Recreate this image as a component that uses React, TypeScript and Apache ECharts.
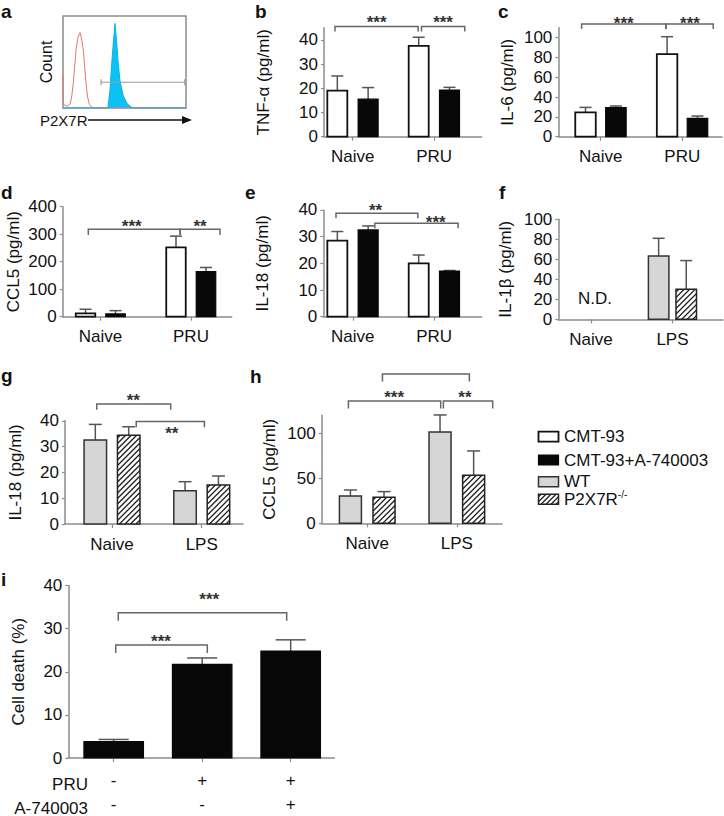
import React, { useEffect, useRef } from 'react';
import * as echarts from 'echarts';

const FONT = '"Liberation Sans", Arial, Helvetica, sans-serif';
const TXT = '#111111';
const AX = '#8c8c8c';
const ERR = '#555555';
const BR = '#666666';

// ---------- panel a: flow cytometry histogram (fluorescence bin, % of max count) ----------
const isotypeHist: [number, number][] = [
  [0, 36], [0.4, 4], [3, 2], [5.7, 4], [7, 12], [8.4, 27], [9.5, 45], [10.6, 63], [12, 76],
  [13.2, 80], [13.8, 82], [14.6, 78], [15.5, 72], [16.5, 63], [17.6, 45], [18.7, 27], [20, 12],
  [21.4, 4], [23, 1], [26, 0], [100, 0],
];
const p2x7rHist: [number, number][] = [
  [0, 0], [36, 0], [36.6, 1], [38.2, 20], [39.8, 52], [41.1, 74], [42.3, 92], [43.5, 74],
  [44.7, 52], [46.3, 30], [48.8, 14], [52, 5], [55.3, 1], [58, 0], [100, 0],
];
const gateRange = [31, 99];
const gateLevel = 28;

// ---------- categories ----------
const catsPRU = ['Naive', 'PRU'];
const catsLPS = ['Naive', 'LPS'];
const iPRU = ['-', '+', '+'];
const iA740003 = ['-', '-', '+'];

// ---------- b: TNF-α ----------
const tnfCMT = [19.0, 37.5];
const tnfCMTErr = [6.1, 3.6];
const tnfCMTA = [15.5, 19.3];
const tnfCMTAErr = [4.8, 1.1];
// ---------- c: IL-6 ----------
const il6CMT = [24.6, 83.5];
const il6CMTErr = [5.0, 17.5];
const il6CMTA = [29.3, 18.5];
const il6CMTAErr = [1.7, 2.4];
// ---------- d: CCL5 ----------
const ccl5CMT = [12, 252];
const ccl5CMTErr = [15, 41];
const ccl5CMTA = [10, 164];
const ccl5CMTAErr = [12, 15];
// ---------- e: IL-18 ----------
const il18CMT = [28.5, 20.0];
const il18CMTErr = [3.4, 3.1];
const il18CMTA = [32.5, 17.1];
const il18CMTAErr = [1.5, 0.2];
// ---------- f: IL-1β (naive not detected) ----------
const il1bWT = [null, 63.3];
const il1bWTErr = [null, 17.7];
const il1bKO = [null, 30.0];
const il1bKOErr = [null, 28.7];
// ---------- g: IL-18 ----------
const il18WT = [32.6, 12.9];
const il18WTErr = [6.0, 3.5];
const il18KO = [34.4, 15.1];
const il18KOErr = [3.3, 3.5];
// ---------- h: CCL5 ----------
const ccl5WT = [30.4, 101.5];
const ccl5WTErr = [6.6, 18.9];
const ccl5KO = [28.9, 53.3];
const ccl5KOErr = [6.3, 27.1];
// ---------- i: cell death ----------
const cellDeath = [3.8, 21.7, 24.8];
const cellDeathErr = [0.5, 1.5, 2.6];

// ---------- y tick labels ----------
const ticks40 = [0, 10, 20, 30, 40];
const ticks100 = [0, 20, 40, 60, 80, 100];
const ticks400 = [0, 100, 200, 300, 400];
const ticks120 = [0, 50, 100];

// ---------- significance brackets: [x1, x2, y, labelX, labelY] in category / value units ----------
const bBr = [[-0.218, 0.804, 45.5, 0.293, 48.9], [0.845, 1.377, 45.5, 1.11, 48.9]];
const bStars = ['***', '***'];
const cBr = [[-0.234, 0.8, 113.8, 0.283, 117.9], [0.8, 1.38, 113.8, 1.094, 117.9]];
const cStars = ['***', '***'];
const dBr = [[-0.135, 0.88, 317.8, 0.345, 341.8], [0.88, 1.32, 317.8, 1.1, 341.8]];
const dStars = ['***', '**'];
const eBr = [[-0.206, 0.8, 38.7, 0.28, 41.2], [0.272, 1.295, 35.0, 1.02, 36.6]];
const eStars = ['**', '***'];
const gBr = [[-0.17, 0.654, 46.5, 0.237, 49.6], [0.27, 1.03, 39.7, 0.666, 36.7]];
const gStars = ['**', '**'];
const hBr = [[-0.21, 0.82, 136, 0.3, 144.4], [0.85, 1.4, 136, 1.09, 144.4], [0.17, 1.14, 166, 0.655, 166]];
const hStars = ['***', '**', ''];
const iBr = [[0.023, 1.058, 26.2, 0.534, 27.9], [0.052, 1.955, 33.7, 1.08, 37.6]];
const iStars = ['***', '***'];

const legendNames = ['CMT-93', 'CMT-93+A-740003', 'WT', 'P2X7R'];
const legendKinds = ['white', 'black', 'gray', 'hatch'];

const KIND: Record<string, { fill: string; stroke: string; lw: number }> = {
  white: { fill: '#ffffff', stroke: '#111111', lw: 1.8 },
  black: { fill: '#080808', stroke: '#080808', lw: 1.2 },
  gray: { fill: '#d6d6d6', stroke: '#333333', lw: 1.5 },
  hatch: { fill: '#ffffff', stroke: '#222222', lw: 1.5 },
};

function hatchLines(x0: number, y0: number, x1: number, y1: number, step: number) {
  const out: any[] = [];
  for (let c = x0 + y0 + step / 2; c < x1 + y1; c += step) {
    const xa = Math.max(x0, c - y1);
    const xb = Math.min(x1, c - y0);
    if (xb <= xa) continue;
    out.push({
      type: 'line',
      shape: { x1: xa, y1: c - xa, x2: xb, y2: c - xb },
      style: { stroke: '#222', lineWidth: 1.3 },
    });
  }
  return out;
}

function barRenderer(kind: string, off: number, w: number, cap: number) {
  return (params: any, api: any) => {
    const cat = api.value(0);
    const v = api.value(1);
    const sd = api.value(2);
    const base = api.coord([cat, 0]);
    const top = api.coord([cat, v]);
    const et = api.coord([cat, v + sd]);
    const cx = base[0] + off;
    const x0 = cx - w / 2;
    const x1 = cx + w / 2;
    const st = KIND[kind];
    const children: any[] = [];
    children.push({ type: 'line', shape: { x1: cx, y1: top[1], x2: cx, y2: et[1] }, style: { stroke: ERR, lineWidth: 1.5 } });
    children.push({ type: 'line', shape: { x1: cx - cap / 2, y1: et[1], x2: cx + cap / 2, y2: et[1] }, style: { stroke: ERR, lineWidth: 1.5 } });
    children.push({ type: 'rect', shape: { x: x0, y: top[1], width: w, height: base[1] - top[1] }, style: { fill: st.fill, stroke: null } });
    if (kind === 'hatch') hatchLines(x0, top[1], x1, base[1], 5.5).forEach((l) => children.push(l));
    children.push({ type: 'rect', shape: { x: x0, y: top[1], width: w, height: base[1] - top[1] }, style: { fill: null, stroke: st.stroke, lineWidth: st.lw } });
    return { type: 'group', children };
  };
}

function bracketRenderer(labels: string[], tick: number) {
  return (params: any, api: any) => {
    const p1 = api.coord([api.value(0), api.value(2)]);
    const p2 = api.coord([api.value(1), api.value(2)]);
    const pl = api.coord([api.value(3), api.value(4)]);
    const children: any[] = [
      {
        type: 'polyline',
        shape: { points: [[p1[0], p1[1] + tick], [p1[0], p1[1]], [p2[0], p2[1]], [p2[0], p2[1] + tick]] },
        style: { stroke: BR, lineWidth: 1.5, fill: null },
      },
    ];
    const t = labels[params.dataIndex];
    if (t) {
      children.push({
        type: 'text',
        x: pl[0],
        y: pl[1] + 4,
        style: { text: t, fill: '#333', font: `bold 17px ${FONT}`, align: 'center', verticalAlign: 'middle' },
      });
    }
    return { type: 'group', children };
  };
}

interface BarSet { kind: string; off: number; mean: (number | null)[]; err: (number | null)[] }
interface Panel {
  axisX: number; right: number; y0: number; yMax: number; ppu: number; xMin: number; xMax: number;
  title: string; nameGap: number; yTicks: number[]; cats: string[]; labelFmt?: (i: number) => string;
  labelMargin?: number; barW: number; cap: number; bars: BarSet[]; brackets?: number[][]; stars?: string[]; tick?: number;
}

function buildOption() {
  const grids: any[] = [];
  const xAxes: any[] = [];
  const yAxes: any[] = [];
  const series: any[] = [];
  const txt = { color: TXT, fontFamily: FONT };

  // panel a
  grids.push({ left: 63, top: 16, width: 123, height: 92, show: true, borderColor: '#8c8c8c', borderWidth: 1.5 });
  xAxes.push({ gridIndex: 0, type: 'value', min: 0, max: 100, show: false });
  yAxes.push({
    gridIndex: 0, type: 'value', min: 0, max: 100, splitLine: { show: false }, axisLine: { show: false, onZero: false },
    axisTick: { show: false }, axisLabel: { show: false }, name: 'Count', nameLocation: 'middle', nameGap: 9,
    nameTextStyle: { fontSize: 16, ...txt },
  });
  series.push({ type: 'line', xAxisIndex: 0, yAxisIndex: 0, data: isotypeHist, showSymbol: false, lineStyle: { color: '#f07070', width: 1 }, silent: true });
  series.push({ type: 'line', xAxisIndex: 0, yAxisIndex: 0, data: p2x7rHist, showSymbol: false, lineStyle: { color: '#00b6ea', width: 1 }, areaStyle: { color: '#0dc2f2', opacity: 1 }, silent: true });
  series.push({
    type: 'line', xAxisIndex: 0, yAxisIndex: 0, data: [[gateRange[0], gateLevel], [gateRange[1], gateLevel]],
    lineStyle: { color: '#9a9a9a', width: 1 }, symbol: 'rect', symbolSize: [1.2, 6], itemStyle: { color: '#9a9a9a' }, silent: true,
  });

  const panels: Panel[] = [
    { // b
      axisX: 324, right: 481.7, y0: 136.7, yMax: 45, ppu: 2.42, xMin: -0.353, xMax: 1.585, title: 'TNF-α (pg/ml)', nameGap: 52,
      yTicks: ticks40, cats: catsPRU, barW: 20, cap: 12, tick: 5, brackets: bBr, stars: bStars,
      bars: [{ kind: 'white', off: -15.4, mean: tnfCMT, err: tnfCMTErr }, { kind: 'black', off: 15.4, mean: tnfCMTA, err: tnfCMTAErr }],
    },
    { // c
      axisX: 558.3, right: 722, y0: 136.7, yMax: 110, ppu: 0.99, xMin: -0.52, xMax: 1.487, title: 'IL-6 (pg/ml)', nameGap: 42,
      yTicks: ticks100, cats: catsPRU, barW: 20.5, cap: 12, tick: 5, brackets: cBr, stars: cStars,
      bars: [{ kind: 'white', off: -15.2, mean: il6CMT, err: il6CMTErr }, { kind: 'black', off: 15.2, mean: il6CMTA, err: il6CMTAErr }],
    },
    { // d
      axisX: 62.7, right: 231.7, y0: 316.7, yMax: 400, ppu: 0.275, xMin: -0.418, xMax: 1.45, title: 'CCL5 (pg/ml)', nameGap: 41,
      yTicks: ticks400, cats: catsPRU, barW: 19.5, cap: 12, tick: 5.7, brackets: dBr, stars: dStars,
      bars: [{ kind: 'white', off: -15, mean: ccl5CMT, err: ccl5CMTErr }, { kind: 'black', off: 15, mean: ccl5CMTA, err: ccl5CMTAErr }],
    },
    { // e
      axisX: 323.3, right: 481.7, y0: 316.7, yMax: 40, ppu: 2.67, xMin: -0.362, xMax: 1.585, title: 'IL-18 (pg/ml)', nameGap: 52,
      yTicks: ticks40, cats: catsPRU, barW: 20, cap: 12, tick: 5, brackets: eBr, stars: eStars,
      bars: [{ kind: 'white', off: -15.4, mean: il18CMT, err: il18CMTErr }, { kind: 'black', off: 15.4, mean: il18CMTA, err: il18CMTAErr }],
    },
    { // f
      axisX: 558.3, right: 723, y0: 319.3, yMax: 100, ppu: 1, xMin: -0.4, xMax: 1.62, title: 'IL-1β (pg/ml)', nameGap: 44,
      yTicks: ticks100, cats: catsLPS, barW: 20.5, cap: 12,
      bars: [{ kind: 'gray', off: -13.8, mean: il1bWT, err: il1bWTErr }, { kind: 'hatch', off: 13.8, mean: il1bKO, err: il1bKOErr }],
    },
    { // g
      axisX: 65, right: 243, y0: 524, yMax: 40, ppu: 2.58, xMin: -0.524, xMax: 1.46, title: 'IL-18 (pg/ml)', nameGap: 41,
      yTicks: ticks40, cats: catsLPS, barW: 22.5, cap: 13, tick: 5.7, brackets: gBr, stars: gStars,
      bars: [{ kind: 'gray', off: -16.7, mean: il18WT, err: il18WTErr }, { kind: 'hatch', off: 16.7, mean: il18KO, err: il18KOErr }],
    },
    { // h
      axisX: 321.7, right: 502, y0: 523.3, yMax: 120, ppu: 0.9, xMin: -0.508, xMax: 1.504, title: 'CCL5 (pg/ml)', nameGap: 44,
      yTicks: ticks120, cats: catsLPS, barW: 22, cap: 13, tick: 7.7, brackets: hBr, stars: hStars,
      bars: [{ kind: 'gray', off: -16.8, mean: ccl5WT, err: ccl5WTErr }, { kind: 'hatch', off: 16.8, mean: ccl5KO, err: ccl5KOErr }],
    },
    { // i
      axisX: 68.3, right: 334.3, y0: 762.3, yMax: 40, ppu: 4.42, xMin: -0.513, xMax: 2.493, title: 'Cell death (%)', nameGap: 41,
      yTicks: ticks40, cats: iPRU, labelFmt: (i) => `${iPRU[i]}\n${iA740003[i]}`, labelMargin: 10, barW: 59.5, cap: 30, tick: 8,
      brackets: iBr, stars: iStars,
      bars: [{ kind: 'black', off: 0, mean: cellDeath, err: cellDeathErr }],
    },
  ];

  panels.forEach((p) => {
    const gi = grids.length;
    const top = p.y0 - p.yMax * p.ppu;
    grids.push({ left: p.axisX, top, width: p.right - p.axisX, height: p.y0 - top });
    const catIdx = p.cats.map((_, i) => i);
    xAxes.push({
      gridIndex: gi, type: 'value', min: p.xMin, max: p.xMax, splitLine: { show: false },
      axisLine: { show: true, onZero: false, lineStyle: { color: AX, width: 1.5 } },
      axisTick: { show: true, customValues: catIdx, length: 4, lineStyle: { color: AX, width: 1.2 } },
      axisLabel: {
        customValues: catIdx, margin: p.labelMargin ?? 8, fontSize: 17, lineHeight: 24, ...txt,
        formatter: (v: number) => (p.labelFmt ? p.labelFmt(Math.round(v)) : p.cats[Math.round(v)]),
      },
    });
    yAxes.push({
      gridIndex: gi, type: 'value', min: 0, max: p.yMax, splitLine: { show: false },
      axisLine: { show: true, onZero: false, lineStyle: { color: AX, width: 1.5 } },
      axisTick: { show: true, customValues: p.yTicks, length: 3, lineStyle: { color: AX, width: 1.2 } },
      axisLabel: { customValues: p.yTicks, margin: 6, fontSize: 17, ...txt },
      name: p.title, nameLocation: 'middle', nameGap: p.nameGap, nameTextStyle: { fontSize: 17, ...txt },
    });
    p.bars.forEach((b) => {
      const data: number[][] = [];
      b.mean.forEach((m, i) => { if (m != null) data.push([i, m, b.err[i] as number]); });
      series.push({ type: 'custom', xAxisIndex: gi, yAxisIndex: gi, renderItem: barRenderer(b.kind, b.off, p.barW, p.cap), data, silent: true, clip: false });
    });
    if (p.brackets) {
      series.push({ type: 'custom', xAxisIndex: gi, yAxisIndex: gi, renderItem: bracketRenderer(p.stars as string[], p.tick as number), data: p.brackets, silent: true, clip: false });
    }
  });

  const graphic: any[] = [];
  const letter = (t: string, x: number, baseline: number) =>
    graphic.push({ type: 'text', x, y: baseline, style: { text: t, font: `bold 19px ${FONT}`, fill: '#111', align: 'left', verticalAlign: 'bottom' } });
  letter('a', 1, 21);
  letter('b', 255, 21);
  letter('c', 498, 21);
  letter('d', 1, 202);
  letter('e', 245, 202);
  letter('f', 499, 202);
  letter('g', 1, 385);
  letter('h', 250, 386);
  letter('i', 1, 589);

  // P2X7R axis label with arrow
  graphic.push({ type: 'text', x: 40, y: 120, style: { text: 'P2X7R', font: `15px ${FONT}`, fill: TXT, align: 'left', verticalAlign: 'middle' } });
  graphic.push({ type: 'line', shape: { x1: 88, y1: 120, x2: 184, y2: 120 }, style: { stroke: '#111', lineWidth: 1.5 } });
  graphic.push({ type: 'polygon', shape: { points: [[182, 116], [192, 120], [182, 124]] }, style: { fill: '#111' } });

  // N.D. in panel f
  graphic.push({ type: 'text', x: 595, y: 298, style: { text: 'N.D.', font: `17px ${FONT}`, fill: TXT, align: 'center', verticalAlign: 'middle' } });

  // row labels panel i
  graphic.push({ type: 'text', x: 88, y: 784, style: { text: 'PRU', font: `17px ${FONT}`, fill: TXT, align: 'right', verticalAlign: 'middle' } });
  graphic.push({ type: 'text', x: 88, y: 808, style: { text: 'A-740003', font: `17px ${FONT}`, fill: TXT, align: 'right', verticalAlign: 'middle' } });

  // legend
  const legY = [436.7, 460, 481.7, 499.3];
  legendNames.forEach((name, k) => {
    const kind = legendKinds[k];
    const st = KIND[kind];
    const x0 = 538.5;
    const y0 = legY[k] - 5;
    graphic.push({ type: 'rect', shape: { x: x0, y: y0, width: 20, height: 10 }, style: { fill: st.fill, stroke: null } });
    if (kind === 'hatch') hatchLines(x0, y0, x0 + 20, y0 + 10, 5).forEach((l) => graphic.push(l));
    graphic.push({ type: 'rect', shape: { x: x0, y: y0, width: 20, height: 10 }, style: { fill: null, stroke: st.stroke, lineWidth: st.lw } });
    graphic.push({
      type: 'text', x: 564, y: legY[k],
      style: kind === 'hatch'
        ? { text: `{a|${name}}{s|-/-}`, rich: { a: { font: `17px ${FONT}`, fill: TXT }, s: { font: `10px ${FONT}`, fill: TXT, padding: [0, 0, 9, 0] } }, verticalAlign: 'middle' }
        : { text: name, font: `17px ${FONT}`, fill: TXT, verticalAlign: 'middle' },
    });
  });

  return { animation: false, backgroundColor: '#ffffff', grid: grids, xAxis: xAxes, yAxis: yAxes, series, graphic };
}

export default function App() {
  const ref = useRef<HTMLDivElement>(null);
  useEffect(() => {
    if (!ref.current) return;
    const chart = echarts.init(ref.current, null, { renderer: 'svg' });
    chart.setOption(buildOption());
    return () => chart.dispose();
  }, []);
  return <div ref={ref} style={{ position: 'absolute', left: 0, top: 0, width: 724, height: 816 }} />;
}
